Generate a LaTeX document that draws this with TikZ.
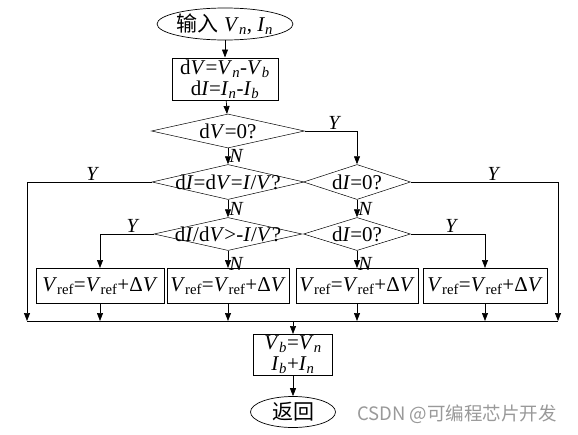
\documentclass[tikz,border=0pt]{standalone}
\usepackage{fontspec}
\setmainfont{Liberation Serif}
\newfontfamily\cjk{Noto Sans CJK SC}
\usepackage{tikz}
\usetikzlibrary{shapes.geometric, arrows.meta, positioning, calc}
\newcommand{\vi}[2]{\textit{#1}\textsubscript{\textit{#2}}}
\newcommand{\vref}{\textit{V}\textsubscript{ref}}

\begin{document}
\begin{tikzpicture}[
    x=1pt, y=-1pt, line width=0.7pt,
    >={Triangle[length=8pt, width=6pt]},
    every node/.style={font=\fontsize{21}{21}\selectfont},
    terminal/.style={ellipse, draw, minimum width=120pt, minimum height=32pt, inner sep=0pt},
    process/.style={rectangle, draw, line width=1pt, minimum width=124pt, minimum height=35pt,
                    inner sep=0pt, align=center},
    decision/.style={diamond, draw, line width=0.5pt, minimum width=150pt, minimum height=34pt,
                     inner sep=0pt},
    answer/.style={font=\fontsize{20}{20}\selectfont\itshape, inner sep=1pt}
]
\useasboundingbox (0,0) rectangle (578,434);
\node[terminal] (start) at (225,24) {{\cjk 输入} \vi{V}{n}, \vi{I}{n}};
\node[process, minimum width=106pt, minimum height=42pt] (calc) at (225,79)
    {d\textit{V}=\vi{V}{n}-\vi{V}{b}\\ d\textit{I}=\vi{I}{n}-\vi{I}{b}};
\node[decision, minimum width=153pt] (d1) at (228,131) {};
\node at (d1) {d\textit{V}=0?};
\node[decision, minimum width=152pt, minimum height=35pt] (d2) at (228,182) {};
\node at (d2) {d\textit{I}=d\textit{V}=\textit{I}/\textit{V}?};
\node[decision, minimum width=107pt, minimum height=35pt] (d3) at (357,182) {};
\node at (d3) {d\textit{I}=0?};
\node[decision, minimum width=148pt, minimum height=33pt] (d4) at (228,234) {};
\node at (d4) {d\textit{I}/d\textit{V}>-\textit{I}/\textit{V}?};
\node[decision, minimum width=107pt, minimum height=33pt] (d5) at (357,234) {};
\node at (d5) {d\textit{I}=0?};
\node[process, minimum width=128pt] (b1) at (100,286) {\vref=\vref+Δ\textit{V}};
\node[process, minimum width=122pt] (b2) at (228,286) {\vref=\vref+Δ\textit{V}};
\node[process, minimum width=122pt] (b3) at (357,286) {\vref=\vref+Δ\textit{V}};
\node[process] (b4) at (485,286) {\vref=\vref+Δ\textit{V}};
\coordinate (busl) at (27,321);
\coordinate (busr) at (558,321);
\node[process, minimum width=79pt, minimum height=41pt] (fin) at (293,355)
    {\vi{V}{b}=\vi{V}{n}\\ \vi{I}{b}+\vi{I}{n}};
\node[terminal, minimum width=85pt, minimum height=31pt] (ret) at (293,412) {\cjk 返回};
\node[font=\cjk\fontsize{18.5}{18.5}\selectfont, text=black!40] (mark) at (457,414)
    {CSDN @可编程芯片开发};
\draw[->] (start) -- (calc);
\draw[->] (calc) -- (d1);
\draw[->] (d1) -- node[answer, right]{N} (d2);
\draw[->] (d1.east) -| node[answer, above, pos=0.28]{Y} (d3.north);
\draw[->] (d2.west) -| node[answer, above, pos=0.24]{Y} (busl);
\draw[->] (d3.east) -| node[answer, above, pos=0.28]{Y} (busr);
\draw[->] (d2) -- node[answer, right]{N} (d4);
\draw[->] (d3) -- node[answer, right]{N} (d5);
\draw[->] (d4.west) -| node[answer, above, pos=0.2]{Y} (b1.north);
\draw[->] (d5.east) -| node[answer, above, pos=0.27]{Y} (b4.north);
\draw[->] (d4) -- node[answer, right, pos=0.75]{N} (b2);
\draw[->] (d5) -- node[answer, right, pos=0.75]{N} (b3);
\draw (busl) -- (busr);
\foreach \b in {b1,b2,b3,b4} {
    \draw[->] (\b.south) -- (\b.south |- busl);
}
\draw[->] (fin.north |- busl) -- (fin);
\draw[->] (fin) -- (ret);
\end{tikzpicture}
\end{document}
